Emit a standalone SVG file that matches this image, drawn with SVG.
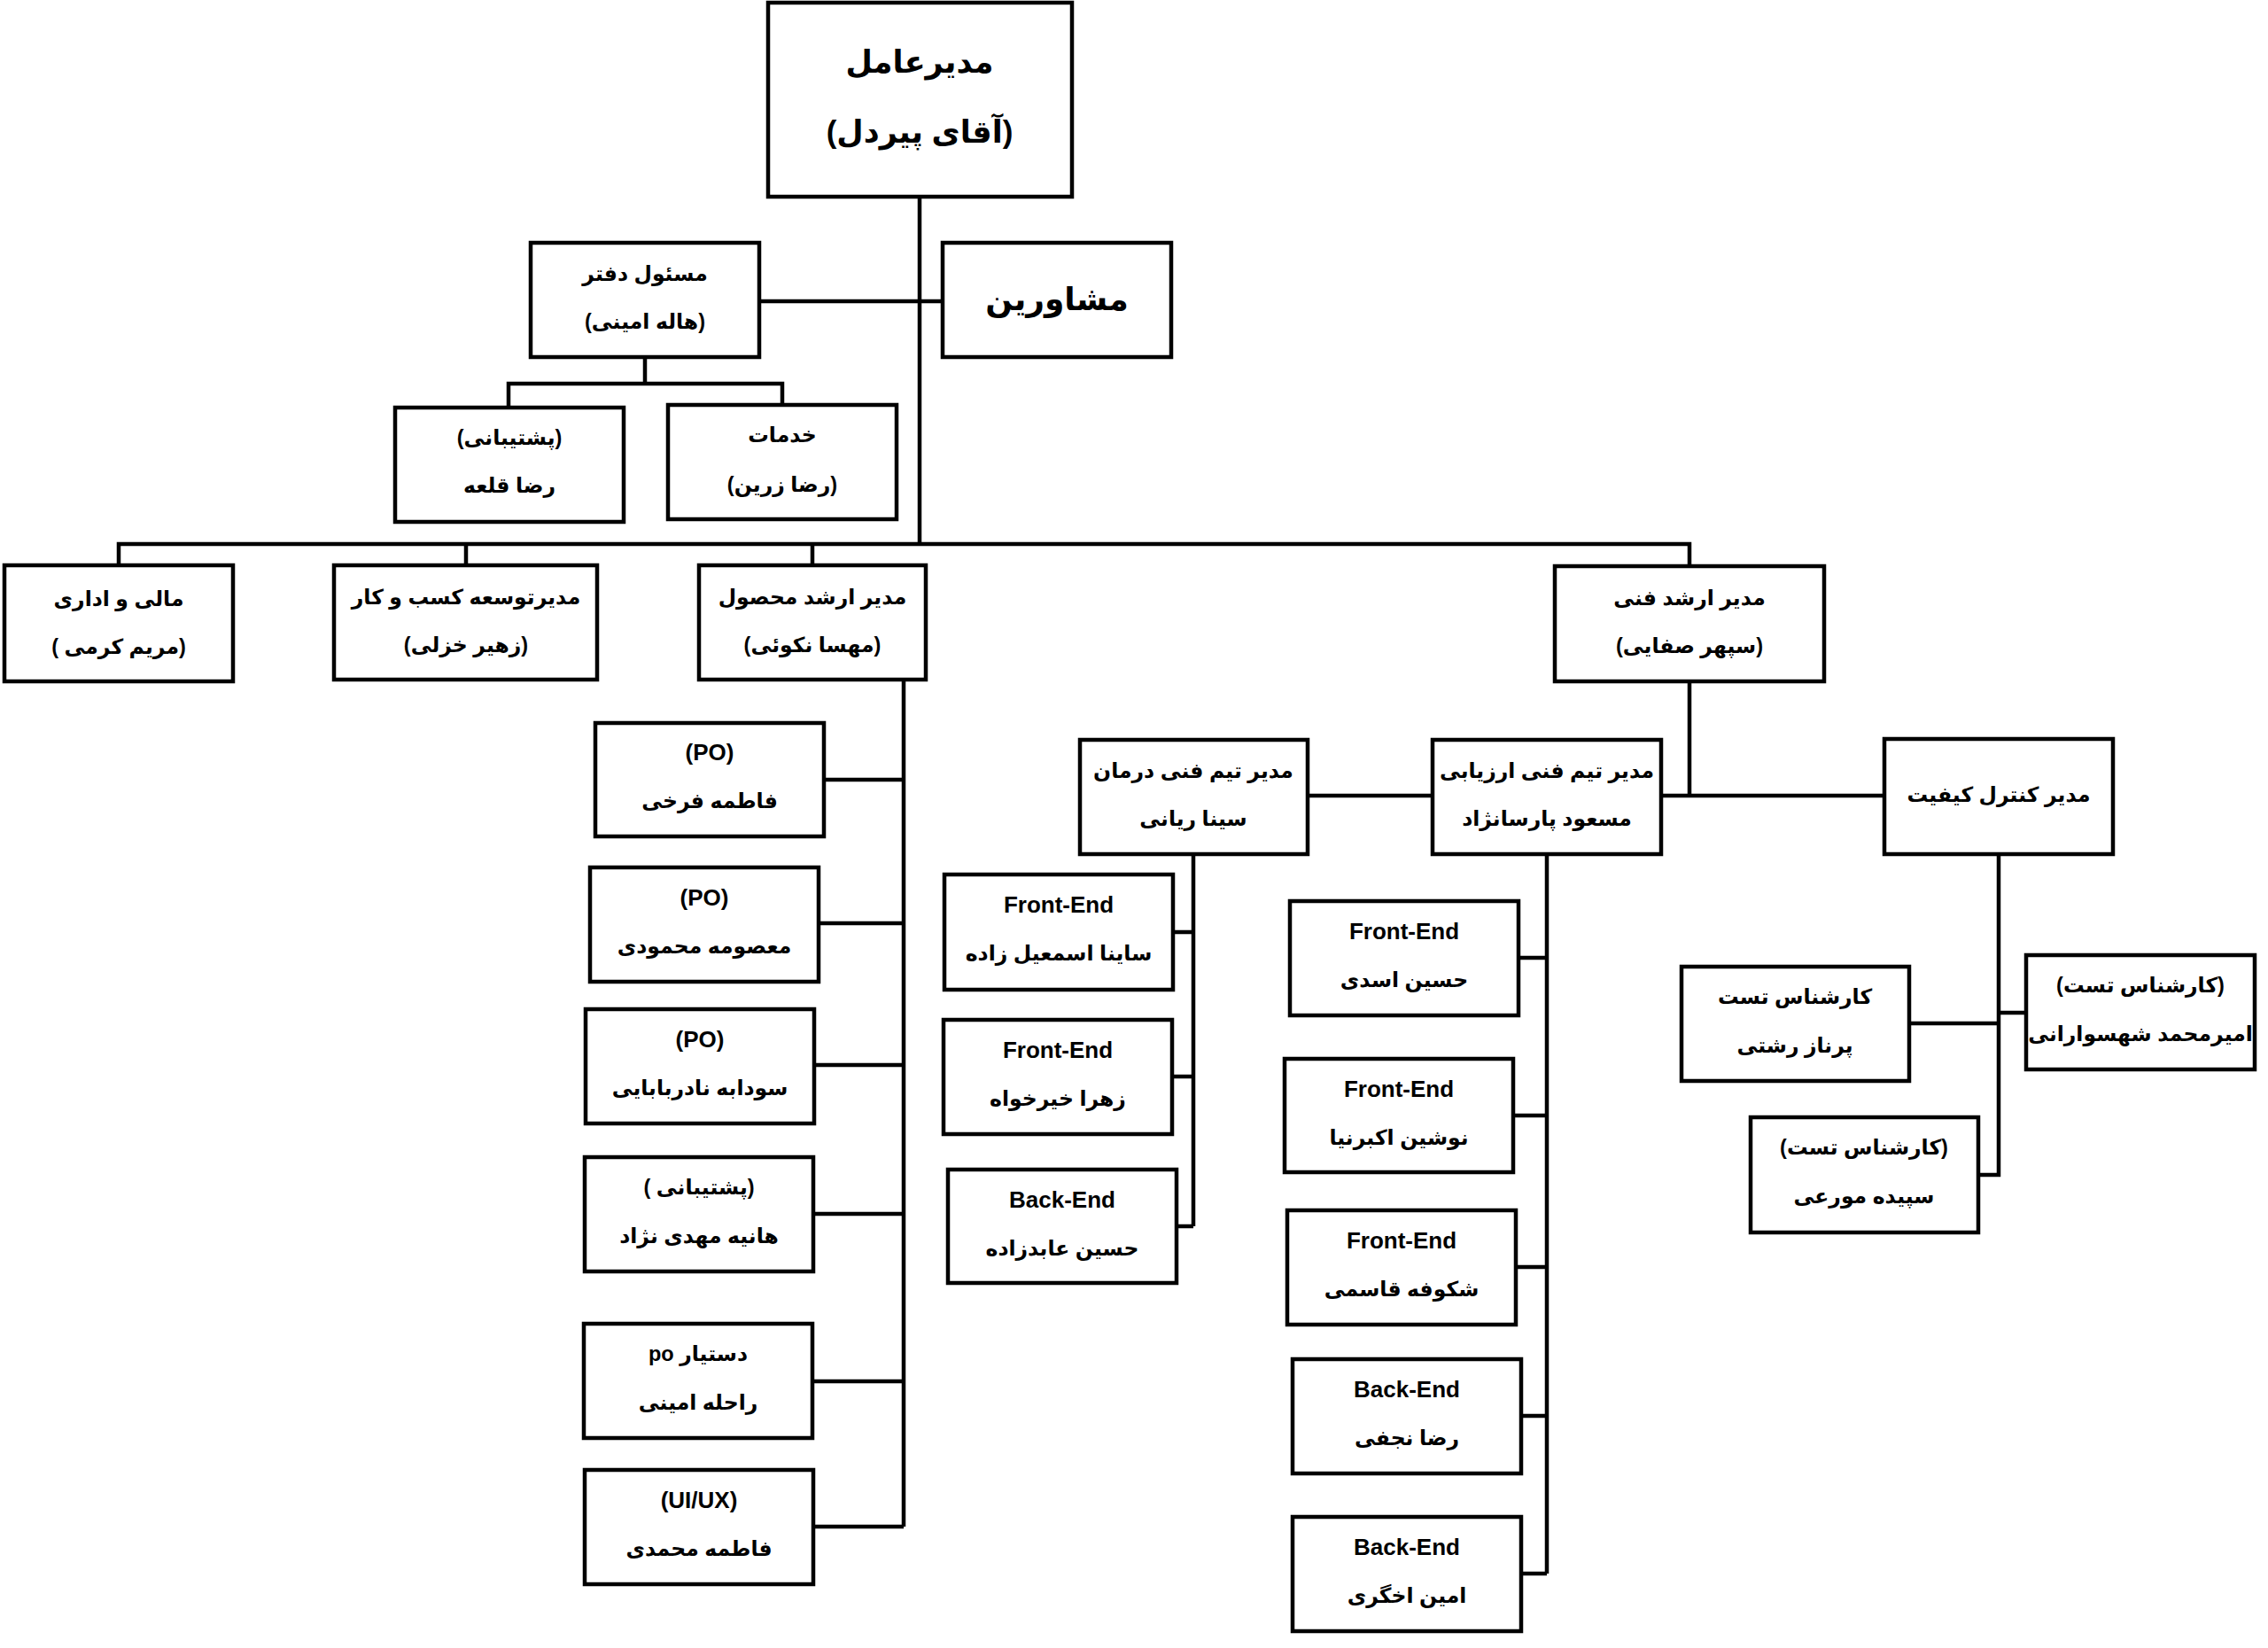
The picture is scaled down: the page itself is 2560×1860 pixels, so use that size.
<svg xmlns="http://www.w3.org/2000/svg" width="2560" height="1860" viewBox="0 0 2560 1860">
<style>
rect{fill:#fff;stroke:#000;stroke-width:4.5}
#connectors path{fill:none;stroke:#000;stroke-width:4.5}
text{font-family:"Liberation Sans","DejaVu Sans",sans-serif;font-weight:bold;font-size:23.5px;fill:#000;text-anchor:middle;dominant-baseline:central;direction:rtl}
.lat{font-size:26px}
.big{font-size:35px}
.adv{font-size:36px}
</style>
<rect x="0" y="0" width="2560" height="1860" style="stroke:none"/>
<g id="connectors">
<path d="M1038 222V614M857 340H1064M728 403V433M574 460V433H883V457M134 638V614H1907V639M526 638V614M917 638V614"/>
<path d="M1020 767V1723M930 880H1020M924 1042H1020M919 1202H1020M918 1370H1020M917 1559H1020M918 1723H1020"/>
<path d="M1907 769V898H1875M1476 898H1617M1875 898H2127"/>
<path d="M1347 964V1384M1324 1052H1347M1323 1215H1347M1328 1384H1347"/>
<path d="M1746 964V1776M1714 1081H1746M1708 1259H1746M1711 1430H1746M1717 1598H1746M1717 1776H1746"/>
<path d="M2256 964V1326H2233M2155 1155H2256M2256 1143H2287"/>
</g>
<g id="ceo"><rect x="867" y="3" width="343" height="219"/><text class="big" x="1038" y="69">مدیرعامل</text><text class="big" x="1038" y="148">(آقای پیردل)</text></g>
<g id="office"><rect x="599" y="274" width="258" height="129"/><text x="728" y="309">مسئول دفتر</text><text x="728" y="363">(هاله امینی)</text></g>
<g id="advisors"><rect x="1064" y="274" width="258" height="129"/><text class="adv" x="1193" y="337">مشاورین</text></g>
<g id="support"><rect x="446" y="460" width="258" height="129"/><text x="575" y="494">(پشتیبانی)</text><text x="575" y="548">رضا قلعه</text></g>
<g id="services"><rect x="754" y="457" width="258" height="129"/><text x="883" y="491">خدمات</text><text x="883" y="547">(رضا زرین)</text></g>
<g id="finance"><rect x="5" y="638" width="258" height="131"/><text x="134" y="676">مالی و اداری</text><text x="134" y="730">(مریم کرمی&#160;)</text></g>
<g id="bizdev"><rect x="377" y="638" width="297" height="129"/><text x="526" y="674">مدیرتوسعه کسب و کار</text><text x="526" y="728">(زهیر خزلی)</text></g>
<g id="product"><rect x="789" y="638" width="256" height="129"/><text x="917" y="674">مدیر ارشد محصول</text><text x="917" y="728">(مهسا نکوئی)</text></g>
<g id="tech"><rect x="1755" y="639" width="304" height="130"/><text x="1907" y="675">مدیر ارشد فنی</text><text x="1907" y="729">(سپهر صفایی)</text></g>
<g id="po1"><rect x="672" y="816" width="258" height="128"/><text class="lat" x="801" y="849">(PO)</text><text x="801" y="904">فاطمه فرخی</text></g>
<g id="po2"><rect x="666" y="979" width="258" height="129"/><text class="lat" x="795" y="1013">(PO)</text><text x="795" y="1068">معصومه محمودی</text></g>
<g id="po3"><rect x="661" y="1139" width="258" height="129"/><text class="lat" x="790" y="1173">(PO)</text><text x="790" y="1228">سودابه نادربابایی</text></g>
<g id="support2"><rect x="660" y="1306" width="258" height="129"/><text x="789" y="1340">(پشتیبانی&#160;)</text><text x="789" y="1395">هانیه مهدی نژاد</text></g>
<g id="poassist"><rect x="659" y="1494" width="258" height="129"/><text x="788" y="1528">دستیار po</text><text x="788" y="1583">راحله امینی</text></g>
<g id="uiux"><rect x="660" y="1659" width="258" height="129"/><text class="lat" x="789" y="1693">(UI/UX)</text><text x="789" y="1748">فاطمه محمدی</text></g>
<g id="treat"><rect x="1219" y="835" width="257" height="129"/><text x="1347" y="870">مدیر تیم فنی درمان</text><text x="1347" y="924">سینا ریانی</text></g>
<g id="eval"><rect x="1617" y="835" width="258" height="129"/><text x="1746" y="870">مدیر تیم فنی ارزیابی</text><text x="1746" y="924">مسعود پارسانژاد</text></g>
<g id="qc"><rect x="2127" y="834" width="258" height="130"/><text x="2256" y="897">مدیر کنترل کیفیت</text></g>
<g id="t1"><rect x="1066" y="987" width="258" height="130"/><text class="lat" x="1195" y="1021">Front-End</text><text x="1195" y="1076">ساینا اسمعیل زاده</text></g>
<g id="t2"><rect x="1065" y="1151" width="258" height="129"/><text class="lat" x="1194" y="1185">Front-End</text><text x="1194" y="1240">زهرا خیرخواه</text></g>
<g id="t3"><rect x="1070" y="1320" width="258" height="128"/><text class="lat" x="1199" y="1354">Back-End</text><text x="1199" y="1409">حسین عابدزاده</text></g>
<g id="e1"><rect x="1456" y="1017" width="258" height="129"/><text class="lat" x="1585" y="1051">Front-End</text><text x="1585" y="1106">حسین اسدی</text></g>
<g id="e2"><rect x="1450" y="1195" width="258" height="128"/><text class="lat" x="1579" y="1229">Front-End</text><text x="1579" y="1284">نوشین اکبرنیا</text></g>
<g id="e3"><rect x="1453" y="1366" width="258" height="129"/><text class="lat" x="1582" y="1400">Front-End</text><text x="1582" y="1455">شکوفه قاسمی</text></g>
<g id="e4"><rect x="1459" y="1534" width="258" height="129"/><text class="lat" x="1588" y="1568">Back-End</text><text x="1588" y="1623">رضا نجفی</text></g>
<g id="e5"><rect x="1459" y="1712" width="258" height="129"/><text class="lat" x="1588" y="1746">Back-End</text><text x="1588" y="1801">امین اخگری</text></g>
<g id="q1"><rect x="1898" y="1091" width="257" height="129"/><text x="2026" y="1125">کارشناس تست</text><text x="2026" y="1180">پرناز رشتی</text></g>
<g id="q2"><rect x="2287" y="1078" width="258" height="129"/><text x="2416" y="1112">(کارشناس تست)</text><text x="2416" y="1167">امیرمحمد شهسوارانی</text></g>
<g id="q3"><rect x="1976" y="1261" width="257" height="130"/><text x="2104" y="1295">(کارشناس تست)</text><text x="2104" y="1350">سپیده مورعی</text></g>
</svg>
